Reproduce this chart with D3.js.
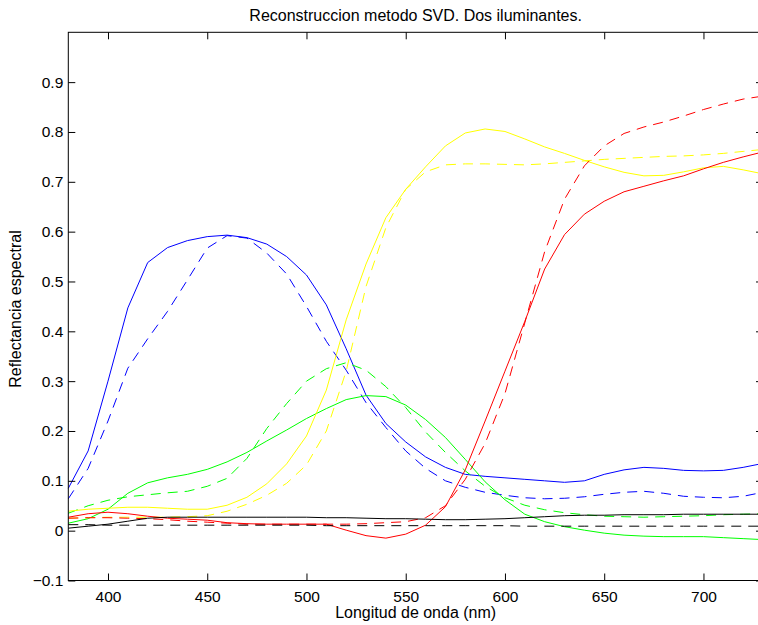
<!DOCTYPE html>
<html>
<head>
<meta charset="utf-8">
<script src="https://cdnjs.cloudflare.com/ajax/libs/d3/7.8.5/d3.min.js"></script>
<style>
body { margin: 0; background: #fff; }
svg text { font-family: "Liberation Sans", Arial, Helvetica, sans-serif; fill: #000; }
</style>
</head>
<body>
<div id="chart"></div>
<script>
// longitudes de onda (nm)
var wavelengths = [380,390,400,410,420,430,440,450,460,470,480,490,500,510,520,530,540,550,
                   560,570,580,590,600,610,620,630,640,650,660,670,680,690,700,710,720,730];

var blueSolid  = [0.085,0.16,0.30,0.447,0.538,0.568,0.582,0.590,0.593,0.588,0.575,0.55,0.513,0.453,0.365,0.272,0.215,0.178,
                  0.148,0.127,0.113,0.109,0.106,0.103,0.100,0.097,0.100,0.113,0.122,0.127,0.125,0.121,0.120,0.121,0.127,0.135];
var blueDashed = [0.064,0.125,0.22,0.326,0.385,0.44,0.503,0.567,0.592,0.587,0.557,0.515,0.45,0.38,0.322,0.257,0.207,0.16,
                  0.125,0.10,0.087,0.077,0.071,0.066,0.064,0.065,0.068,0.073,0.077,0.079,0.075,0.069,0.067,0.066,0.069,0.077];

var greenSolid  = [0.015,0.024,0.043,0.075,0.096,0.106,0.113,0.123,0.138,0.157,0.180,0.202,0.225,0.245,0.263,0.271,0.269,0.252,
                   0.223,0.187,0.143,0.098,0.062,0.033,0.018,0.008,0.001,-0.005,-0.009,-0.011,-0.012,-0.012,-0.012,-0.014,-0.016,-0.018];
var greenDashed = [0.035,0.05,0.061,0.068,0.072,0.076,0.079,0.089,0.105,0.145,0.205,0.255,0.300,0.325,0.337,0.322,0.289,0.247,
                   0.198,0.157,0.12,0.089,0.066,0.051,0.042,0.036,0.032,0.029,0.028,0.027,0.028,0.029,0.030,0.032,0.033,0.034];

var yellowSolid  = [0.039,0.043,0.045,0.047,0.047,0.045,0.043,0.043,0.051,0.067,0.094,0.134,0.19,0.282,0.423,0.535,0.628,0.685,
                    0.73,0.772,0.798,0.806,0.801,0.786,0.770,0.757,0.743,0.730,0.719,0.712,0.713,0.720,0.728,0.731,0.724,0.716];
var yellowDashed = [0.025,0.026,0.027,0.027,0.027,0.027,0.028,0.03,0.039,0.053,0.071,0.095,0.132,0.20,0.32,0.49,0.608,0.685,
                    0.72,0.734,0.736,0.736,0.735,0.734,0.736,0.739,0.742,0.745,0.747,0.749,0.751,0.752,0.754,0.757,0.761,0.765];

var redSolid  = [0.027,0.034,0.037,0.034,0.029,0.025,0.023,0.021,0.016,0.014,0.013,0.013,0.013,0.013,0.001,-0.01,-0.015,-0.007,
                 0.011,0.048,0.122,0.22,0.32,0.42,0.525,0.594,0.635,0.661,0.68,0.691,0.702,0.712,0.726,0.739,0.75,0.76];
var redDashed = [0.025,0.026,0.026,0.025,0.024,0.022,0.019,0.017,0.015,0.013,0.013,0.013,0.013,0.013,0.013,0.014,0.016,0.018,
                 0.026,0.05,0.103,0.175,0.275,0.417,0.56,0.665,0.732,0.772,0.797,0.81,0.82,0.832,0.845,0.856,0.866,0.872];

var blackSolid  = [0.005,0.009,0.013,0.019,0.025,0.027,0.027,0.027,0.027,0.027,0.027,0.027,0.027,0.026,0.026,0.025,0.024,0.024,
                   0.023,0.022,0.022,0.023,0.024,0.026,0.028,0.030,0.031,0.031,0.032,0.032,0.032,0.033,0.033,0.033,0.033,0.033];
var blackDashed = [0.012,0.012,0.011,0.011,0.011,0.011,0.011,0.011,0.011,0.011,0.011,0.011,0.011,0.010,0.010,0.010,0.010,0.010,
                   0.010,0.010,0.010,0.010,0.010,0.009,0.009,0.009,0.009,0.009,0.009,0.009,0.009,0.009,0.009,0.009,0.009,0.009];

var xTicks = [400,450,500,550,600,650,700];
var yTicks = [-0.1,0,0.1,0.2,0.3,0.4,0.5,0.6,0.7,0.8,0.9];

var title = "Reconstruccion metodo SVD. Dos iluminantes.";
var xTitle = "Longitud de onda (nm)";
var yTitle = "Reflectancia espectral";

var series = [
    {values: blueSolid,    color: "#0000ff", dashed: false},
    {values: blueDashed,   color: "#0000ff", dashed: true},
    {values: greenSolid,   color: "#00ff00", dashed: false},
    {values: greenDashed,  color: "#00ff00", dashed: true},
    {values: yellowSolid,  color: "#ffff00", dashed: false},
    {values: yellowDashed, color: "#ffff00", dashed: true},
    {values: redSolid,     color: "#ff0000", dashed: false},
    {values: redDashed,    color: "#ff0000", dashed: true},
    {values: blackSolid,   color: "#000000", dashed: false},
    {values: blackDashed,  color: "#000000", dashed: true}
];

function spectralPlot(id, w, h) {

    // the right border of the original figure falls just outside the picture
    let left = 68.3, right = 763, top = 32.3, bottom = 580.5;
    let tick = 7;

    var xScale = d3.scaleLinear()
        .domain([380, 730])
        .range([left, right]);

    var yScale = d3.scaleLinear()
        .domain([-0.1, 1.0])
        .range([bottom, top]);

    var svg = d3.select(id)
        .append("svg")
        .attr("width", w)
        .attr("height", h);

    svg.append("rect")
        .attr("width", w)
        .attr("height", h)
        .attr("fill", "#fff");

    var line = d3.line()
        .x(function(d) { return xScale(d.x); })
        .y(function(d) { return yScale(d.y); });

    series.forEach(function(s) {
        let pts = s.values.map(function(v, i) { return {x: wavelengths[i], y: v}; });
        svg.append("path")
            .datum(pts)
            .attr("d", line)
            .attr("fill", "none")
            .attr("stroke", s.color)
            .attr("stroke-width", 1)
            .attr("stroke-dasharray", s.dashed ? "10,7" : null);
    });

    let fmt = d3.format("~g");

    var xAxis = d3.axisBottom(xScale).tickValues(xTicks)
        .tickSizeInner(-tick).tickSizeOuter(0).tickPadding(10);
    var xAxisTop = d3.axisTop(xScale).tickValues(xTicks)
        .tickSizeInner(-tick).tickSizeOuter(0).tickFormat("");
    var yAxis = d3.axisLeft(yScale).tickValues(yTicks)
        .tickSizeInner(-tick).tickSizeOuter(0).tickPadding(5).tickFormat(fmt);
    var yAxisRight = d3.axisRight(yScale).tickValues(yTicks)
        .tickSizeInner(-tick).tickSizeOuter(0).tickFormat("");

    svg.append("g")
        .attr("transform", "translate(0," + bottom + ")")
        .call(xAxis);
    svg.append("g")
        .attr("transform", "translate(0," + top + ")")
        .call(xAxisTop);
    svg.append("g")
        .attr("transform", "translate(" + left + ",0)")
        .call(yAxis);
    svg.append("g")
        .attr("transform", "translate(" + right + ",0)")
        .call(yAxisRight);

    svg.selectAll(".domain").remove();
    svg.selectAll(".tick line").attr("stroke", "#000").attr("stroke-width", 1);
    svg.selectAll(".tick text")
        .attr("font-family", null)
        .style("font-size", "15.5px");

    svg.append("rect")
        .attr("x", left)
        .attr("y", top)
        .attr("width", right - left)
        .attr("height", bottom - top)
        .attr("fill", "none")
        .attr("stroke", "#000")
        .attr("stroke-width", 1);

    svg.append("text")
        .attr("x", (left + right) / 2)
        .attr("y", 20.5)
        .style("text-anchor", "middle")
        .style("font-size", "16px")
        .text(title);

    svg.append("text")
        .attr("x", (left + right) / 2)
        .attr("y", 617.5)
        .style("text-anchor", "middle")
        .style("font-size", "16px")
        .text(xTitle);

    svg.append("text")
        .attr("transform", "rotate(-90)")
        .attr("x", -309)
        .attr("y", 20.5)
        .style("text-anchor", "middle")
        .style("font-size", "16px")
        .text(yTitle);

    return svg;
}

spectralPlot("#chart", 758, 625);
</script>
</body>
</html>
